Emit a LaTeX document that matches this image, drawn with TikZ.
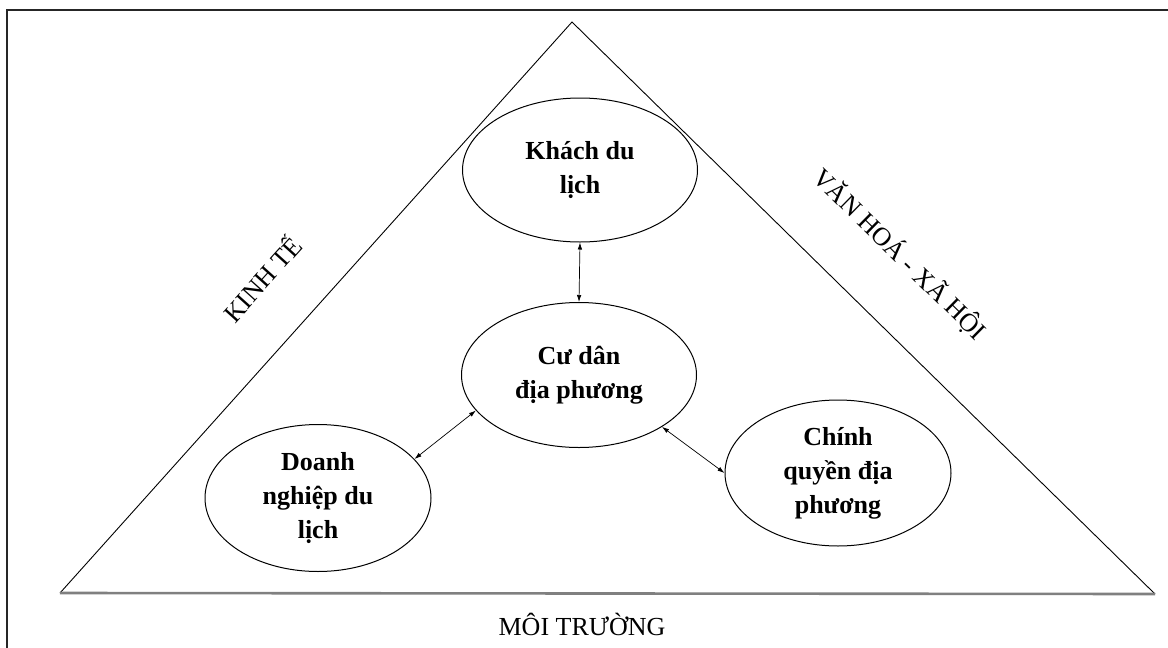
\documentclass[tikz,border=0pt]{standalone}
\usepackage{fontspec}
\setmainfont{Liberation Serif}
\usetikzlibrary{shapes.geometric}
\usetikzlibrary{arrows.meta}
\tikzset{actor/.style={ellipse,draw=black,line width=1pt,inner sep=0pt,
  minimum width=#1,minimum height=147pt,align=center,
  font=\fontsize{26}{34}\selectfont\bfseries},actor/.default=232pt}
\tikzset{side/.style={draw=black,line width=0.9pt}}

\begin{document}
\begin{tikzpicture}[x=1pt,y=-1pt,
                    link/.style={<->,line width=0.7pt,>={Latex[length=7pt,width=4.5pt]}},
                    aspect/.style={font=\fontsize{26}{30}\selectfont}]

		\useasboundingbox (0,0) rectangle (1168,648);

		% Khung ngoài (chỉ thấy cạnh trái và cạnh trên)
		\draw [black!85,line width=1.3pt] (7,648) -- (7,10) -- (1168,10);

		% Tam giác
		\coordinate (top)   at (572,22);
		\coordinate (left)  at (60,593);
		\coordinate (right) at (1155,594);
		\draw [side] (left) -- (top) -- (right);
		\draw [gray,line width=2.6pt] (left) -- (right);

		% Các chủ thể
		\node [actor=235pt,minimum height=144pt] (khach) at (580,170) {Khách du\\lịch};
		\node [actor=235pt,minimum height=145pt] (cudan) at (579,375) {Cư dân\\địa phương};
		\node [actor=226pt] (doanh) at (318,498) {Doanh\\nghiệp du\\lịch};
		\node [actor=226pt,minimum height=146pt] (chinh) at (838,473) {Chính\\quyền địa\\phương};

		% Mũi tên hai chiều
		\draw [link] (khach.south) -- (cudan.north);
		\draw [link] (cudan.199) -- (doanh.22);
		\draw [link] (cudan.328) -- (chinh.180);

		% Các khía cạnh
		\node [aspect,rotate=48] (kinhte) at (261,278) {KINH TẾ};
		\node [aspect,rotate=-44.5] (vanhoa) at (900,254) {VĂN HOÁ - XÃ HỘI};
		\node [aspect,anchor=base] (moitruong) at (582,635) {MÔI TRƯỜNG};

\end{tikzpicture}
\end{document}
